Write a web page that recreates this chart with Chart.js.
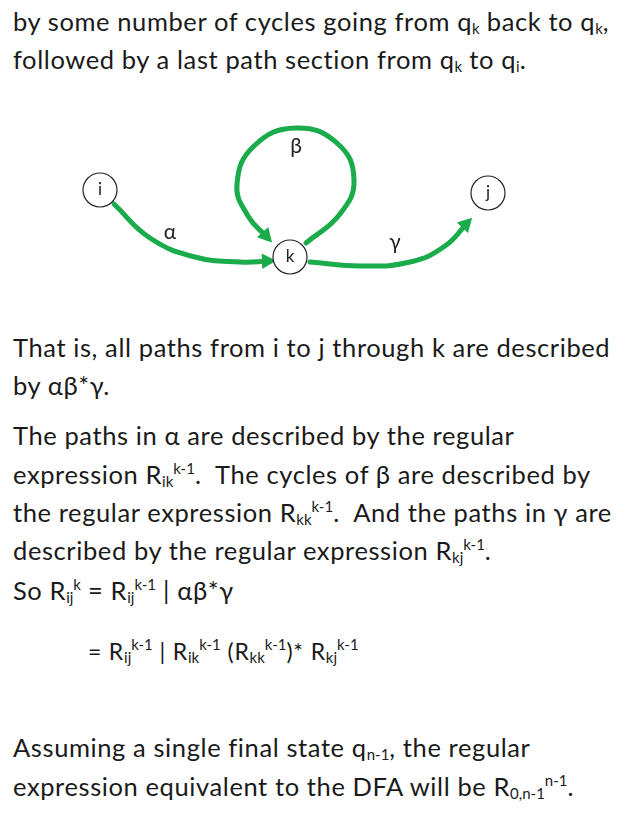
<!DOCTYPE html>
<html><head><meta charset="utf-8">
<script src="https://cdn.jsdelivr.net/npm/chart.js@4/dist/chart.umd.min.js"></script>
<style>
body{margin:0;background:#fff;width:635px;height:813px;overflow:hidden;font-family:Lato,"Open Sans",sans-serif;color:#1a1a1a}
.l{position:absolute;left:13px;font-size:25.5px;letter-spacing:0.6px;white-space:nowrap;line-height:1}
sub,sup{font-size:15px;letter-spacing:0}
sub{vertical-align:-3px}sup{vertical-align:10px}
#wrap{position:absolute;left:0;top:100px;width:635px;height:200px}
</style></head><body>
<div class="l" style="top:9px">by some number of cycles going from q<sub>k</sub> back to q<sub>k</sub>,</div>
<div class="l" style="top:47px">followed by a last path section from q<sub>k</sub> to q<sub>i</sub>.</div>
<div id="wrap"><canvas id="c" width="635" height="200"></canvas></div>
<div class="l" style="top:335px">That is, all paths from i to j through k are described</div>
<div class="l" style="top:373px">by αβ*γ.</div>
<div class="l" style="top:423px">The paths in α are described by the regular</div>
<div class="l" style="top:461px">expression R<sub>ik</sub><sup>k-1</sup>.&nbsp; The cycles of β are described by</div>
<div class="l" style="top:499px">the regular expression R<sub>kk</sub><sup>k-1</sup>.&nbsp; And the paths in γ are</div>
<div class="l" style="top:537px">described by the regular expression R<sub>kj</sub><sup>k-1</sup>.</div>
<div class="l" style="top:577px">So R<sub>ij</sub><sup>k</sup> = R<sub>ij</sub><sup>k-1</sup> | αβ*γ</div>
<div class="l" style="top:637px;left:88px;font-size:23px;letter-spacing:0.8px">= R<sub>ij</sub><sup>k-1</sup> | R<sub>ik</sub><sup>k-1</sup> (R<sub>kk</sub><sup>k-1</sup>)* R<sub>kj</sub><sup>k-1</sup></div>
<div class="l" style="top:735px">Assuming a single final state q<sub>n-1</sub>, the regular</div>
<div class="l" style="top:773px">expression equivalent to the DFA will be R<sub>0,n-1</sub><sup>n-1</sup>.</div>
<script>
// diagram data (page pixel coordinates)
const nodeNames = ['i', 'k', 'j'];
const nodeX = [100, 290, 488];
const nodeY = [190, 257, 193];
const alphaPath = [[114,204],[150,238],[195,257],[240,262],[270,261]];
const betaPath = [[306,243],[340,214],[354,180],[338,144],[296,128],[254,146],[237,184],[248,216],[268,238]];
const gammaPath = [[310,262],[360,266],[410,262],[445,246],[468,222]];
const edgeLabels = ['α', 'β', 'γ'];
const labelX = [170, 296, 395];
const labelY = [232, 146, 242];

const green = '#1aab4b';
const toPts = p => p.map(([x, y]) => ({x, y}));
const edge = p => ({data: toPts(p), showLine: true, borderColor: green, borderWidth: 5,
    pointRadius: 0, tension: 0.45, fill: false, borderCapStyle: 'round'});

const deco = {
    id: 'deco',
    afterDatasetsDraw(chart) {
        const {ctx, scales: {x, y}} = chart;
        ctx.save();
        // arrowheads
        [alphaPath, betaPath, gammaPath].forEach(p => {
            const a = p[p.length - 2], b = p[p.length - 1];
            const bx = x.getPixelForValue(b[0]), by = y.getPixelForValue(b[1]);
            const ang = Math.atan2(by - y.getPixelForValue(a[1]), bx - x.getPixelForValue(a[0]));
            const tx = bx + 6 * Math.cos(ang), ty = by + 6 * Math.sin(ang);
            ctx.fillStyle = green;
            ctx.beginPath();
            ctx.moveTo(tx, ty);
            ctx.lineTo(tx - 16 * Math.cos(ang - 0.5), ty - 16 * Math.sin(ang - 0.5));
            ctx.lineTo(tx - 16 * Math.cos(ang + 0.5), ty - 16 * Math.sin(ang + 0.5));
            ctx.closePath();
            ctx.fill();
        });
        // nodes
        ctx.font = '17px Lato, sans-serif';
        ctx.textAlign = 'center';
        ctx.textBaseline = 'middle';
        nodeNames.forEach((n, i) => {
            const px = x.getPixelForValue(nodeX[i]), py = y.getPixelForValue(nodeY[i]);
            ctx.beginPath();
            ctx.arc(px, py, 17, 0, Math.PI * 2);
            ctx.fillStyle = '#fff';
            ctx.fill();
            ctx.strokeStyle = '#222';
            ctx.lineWidth = 1.2;
            ctx.stroke();
            ctx.fillStyle = '#222';
            ctx.fillText(n, px, py);
        });
        ctx.font = '21px Lato, sans-serif';
        edgeLabels.forEach((t, i) => {
            ctx.fillText(t, x.getPixelForValue(labelX[i]), y.getPixelForValue(labelY[i]));
        });
        ctx.restore();
    }
};

new Chart(document.getElementById('c'), {
    type: 'scatter',
    data: {datasets: [edge(alphaPath), edge(betaPath), edge(gammaPath)]},
    options: {
        responsive: false, animation: false, events: [],
        layout: {padding: 0},
        plugins: {legend: {display: false}, tooltip: {enabled: false}},
        scales: {
            x: {type: 'linear', min: 0, max: 635, display: false},
            y: {type: 'linear', min: 100, max: 300, reverse: true, display: false}
        }
    },
    plugins: [deco]
});
</script>
</body></html>
